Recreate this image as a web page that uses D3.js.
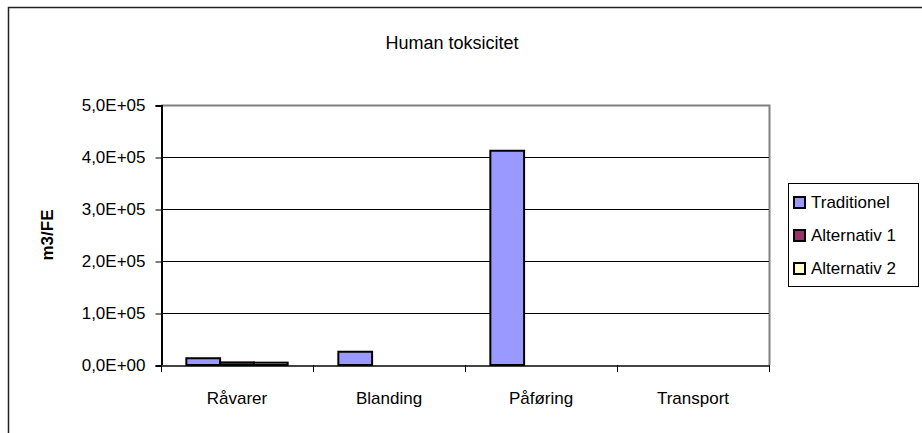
<!DOCTYPE html>
<html>
<head>
<meta charset="utf-8">
<script src="https://cdn.jsdelivr.net/npm/d3@7"></script>
<style>
  html, body { margin: 0; padding: 0; background: #fff; }
  svg { display: block; }
  text { font-family: "Liberation Sans", Arial, sans-serif; fill: #000; }
</style>
</head>
<body>
<svg id="chart" width="922" height="433"></svg>
<script>
// Chart data
const categories = ["Råvarer", "Blanding", "Påføring", "Transport"];
const seriesNames = ["Traditionel", "Alternativ 1", "Alternativ 2"];
const traditionel = [13000, 25500, 412000, 0];
const alternativ1 = [5000, 0, 0, 0];
const alternativ2 = [4500, 0, 0, 0];
const yTicks = [0, 100000, 200000, 300000, 400000, 500000];
const seriesColors = ["#9999FF", "#993366", "#FFFFCC"];

const seriesValues = [traditionel, alternativ1, alternativ2];

const svg = d3.select("#chart");
const W = 922, H = 433;
const plot = { left: 161, right: 769, top: 105, bottom: 365 };
const FONT = '"Liberation Sans", Arial, sans-serif';

// Outer chart frame (runs past the window on the right and bottom)
svg.append("rect")
  .attr("x", 8.5).attr("y", 7.5)
  .attr("width", W + 20).attr("height", H + 20)
  .attr("fill", "#fff").attr("stroke", "#222").attr("stroke-width", 1.5);

// Scales
const x0 = d3.scaleBand().domain(categories).range([plot.left, plot.right]).padding(0);
const y = d3.scaleLinear().domain([0, 500000]).range([plot.bottom, plot.top]);

// Plot area border (top and right)
svg.append("path")
  .attr("d", `M${plot.left},${plot.top + 0.5}H${plot.right + 0.5}V${plot.bottom}`)
  .attr("fill", "none").attr("stroke", "#808080").attr("stroke-width", 2);

// Gridlines
svg.append("g").selectAll("line")
  .data(yTicks.filter(v => v > 0 && v < 500000))
  .join("line")
  .attr("x1", plot.left).attr("x2", plot.right)
  .attr("y1", d => Math.round(y(d)) + 0.5).attr("y2", d => Math.round(y(d)) + 0.5)
  .attr("stroke", "#000").attr("stroke-width", 1);

// Y axis
const fmt = v => {
  const e = v === 0 ? 0 : Math.floor(Math.log10(v));
  const m = v === 0 ? 0 : v / Math.pow(10, e);
  return m.toFixed(1).replace(".", ",") + "E+" + String(e).padStart(2, "0");
};
const yAxis = d3.axisLeft(y).tickValues(yTicks).tickFormat(fmt).tickSize(6).tickPadding(10);
const gy = svg.append("g").attr("transform", `translate(${plot.left + 0.5},0.5)`).call(yAxis);
gy.select(".domain").attr("stroke", "#000").attr("stroke-width", 2);
gy.selectAll(".tick line").attr("stroke", "#000");
gy.selectAll(".tick text")
  .style("font-family", FONT)
  .style("font-size", "17px").attr("fill", "#111");

// X axis
const xAxis = d3.axisBottom(x0).tickSize(0).tickPadding(38);
const gx = svg.append("g").attr("transform", `translate(0,${plot.bottom + 0.5})`).call(xAxis);
gx.select(".domain").attr("stroke", "#444").attr("stroke-width", 2);
gx.selectAll(".tick text")
  .attr("dy", 0)
  .style("font-family", FONT)
  .style("font-size", "17px").attr("fill", "#111");
// Category boundary tick marks
svg.append("g").selectAll("line")
  .data(d3.range(categories.length + 1))
  .join("line")
  .attr("x1", i => Math.round(plot.left + i * x0.bandwidth()) + 0.5)
  .attr("x2", i => Math.round(plot.left + i * x0.bandwidth()) + 0.5)
  .attr("y1", plot.bottom).attr("y2", plot.bottom + 7)
  .attr("stroke", "#000").attr("stroke-width", 1);

// Bars: three adjacent bars per category, 50% gap around each group
const barW = x0.bandwidth() / 4.5;
const groupOffset = (x0.bandwidth() - barW * 3) / 2;
seriesValues.forEach((vals, s) => {
  svg.append("g").selectAll("rect")
    .data(vals.map((v, i) => ({ cat: categories[i], v })).filter(d => d.v > 0))
    .join("rect")
    .attr("x", d => x0(d.cat) + groupOffset + s * barW)
    .attr("y", d => y(d.v))
    .attr("width", barW)
    .attr("height", d => y(0) - y(d.v))
    .attr("fill", seriesColors[s])
    .attr("stroke", "#000").attr("stroke-width", 2);
});

// Title
svg.append("text")
  .attr("x", 452).attr("y", 49)
  .attr("text-anchor", "middle")
  .style("font-size", "18px")
  .text("Human toksicitet");

// Y axis title
svg.append("text")
  .attr("transform", "translate(53,235) rotate(-90)")
  .attr("text-anchor", "middle")
  .style("font-size", "17px").style("font-weight", "bold")
  .text("m3/FE");

// Legend
const lg = svg.append("g");
lg.append("rect")
  .attr("x", 788.5).attr("y", 183.5).attr("width", 130).attr("height", 103)
  .attr("fill", "#fff").attr("stroke", "#000").attr("stroke-width", 1);
seriesNames.forEach((name, i) => {
  const cy = 202 + i * 33;
  lg.append("rect")
    .attr("x", 794).attr("y", cy - 5).attr("width", 11).attr("height", 11)
    .attr("fill", seriesColors[i]).attr("stroke", "#000").attr("stroke-width", 2);
  lg.append("text")
    .attr("x", 811).attr("y", cy + 6)
    .style("font-size", "17px")
    .text(name);
});
</script>
</body>
</html>
